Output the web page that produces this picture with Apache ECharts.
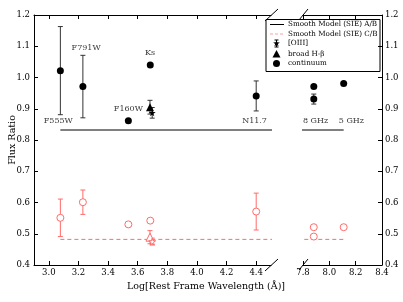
<!DOCTYPE html>
<html>
<head>
<meta charset="utf-8">
<script src="https://cdn.jsdelivr.net/npm/echarts@6/dist/echarts.min.js"></script>
<style>html,body{margin:0;padding:0;background:#fff;}#c{width:403px;height:302px;}</style>
</head>
<body>
<div id="c"></div>
<script>
// ---- data ----
const bandNames = ['F555W', 'F791W', 'F160W', 'Ks', 'N11.7', '8 GHz', '8 GHz', '5 GHz'];
const logWave   = [3.078, 3.230, 3.537, 3.685, 4.400, 7.882, 7.882, 8.109];
const contAB    = [1.022, 0.971, 0.862, 1.040, 0.941, 0.971, 0.931, 0.981];
const contABErr = [0.141, 0.100, 0, 0, 0.048, 0, 0.016, 0];
const contCB    = [0.551, 0.601, 0.530, 0.542, 0.571, 0.521, 0.491, 0.521];
const contCBErr = [0.060, 0.039, 0, 0, 0.059, 0, 0, 0];
const oiiiX = [3.698], oiiiAB = [0.887], oiiiABErr = [0.017], oiiiCB = [0.475], oiiiCBErr = [0.011];
const hbX = [3.683], hbAB = [0.905], hbABErr = [0.022], hbCB = [0.489], hbCBErr = [0.021];
const modelX = [3.078, 8.109];
const modelAB = [0.832, 0.832];
const modelCB = [0.482, 0.482];
const labelText = ['F555W', 'F791W', 'F160W', 'Ks', 'N11.7', '8 GHz', '5 GHz'];
const labelX    = [3.064, 3.252, 3.537, 3.683, 4.389, 7.895, 8.168];
const labelY    = [0.862, 1.094, 0.900, 1.078, 0.862, 0.862, 0.862];
const ticksLeft = [3.0, 3.2, 3.4, 3.6, 3.8, 4.0, 4.2, 4.4];
const ticksRight = [7.8, 8.0, 8.2, 8.4];
const yTicks = [0.4, 0.5, 0.6, 0.7, 0.8, 0.9, 1.0, 1.1, 1.2];

const RED = '#ff6b6b';
const FONT = 'DejaVu Serif';
const STAR = 'path://M50,0 L61,35 L98,35 L68,57 L79,91 L50,70 L21,91 L32,57 L2,35 L39,35 Z';

function panelOf(x) { return x < 6 ? 0 : 1; }
function pts(xs, ys, p) {
  const out = [];
  xs.forEach((x, i) => { if (panelOf(x) === p) out.push([x, ys[i]]); });
  return out;
}
function errs(xs, ys, es, p) {
  const out = [];
  xs.forEach((x, i) => { if (panelOf(x) === p && es[i] > 0) out.push([x, ys[i] - es[i], ys[i] + es[i]]); });
  return out;
}
function errSeries(data, color, p) {
  return {
    type: 'custom', xAxisIndex: p * 2, yAxisIndex: p, z: 2, clip: true,
    data: data,
    renderItem: function (params, api) {
      const x = api.value(0);
      const lo = api.coord([x, api.value(1)]);
      const hi = api.coord([x, api.value(2)]);
      const cw = 2.5;
      const st = { stroke: color, lineWidth: 1 };
      return { type: 'group', children: [
        { type: 'line', shape: { x1: lo[0], y1: lo[1], x2: hi[0], y2: hi[1] }, style: st },
        { type: 'line', shape: { x1: lo[0] - cw, y1: lo[1], x2: lo[0] + cw, y2: lo[1] }, style: st },
        { type: 'line', shape: { x1: hi[0] - cw, y1: hi[1], x2: hi[0] + cw, y2: hi[1] }, style: st }
      ]};
    }
  };
}
function scat(data, p, symbol, size, filled) {
  return {
    type: 'scatter', xAxisIndex: p * 2, yAxisIndex: p, z: 3, data: data,
    symbol: symbol, symbolSize: size,
    itemStyle: filled ? { color: '#000', opacity: 1 } : { color: '#fff', borderColor: RED, borderWidth: 1, opacity: 1 },
    emphasis: { disabled: true }
  };
}

const series = [];
[0, 1].forEach(p => {
  series.push({ type: 'line', xAxisIndex: p * 2, yAxisIndex: p, clip: true, showSymbol: false, symbol: 'none',
    data: modelX.map((x, i) => [x, modelAB[i]]), lineStyle: { color: '#000', width: 1 }, z: 1 });
  series.push({ type: 'line', xAxisIndex: p * 2, yAxisIndex: p, clip: true, showSymbol: false, symbol: 'none',
    data: modelX.map((x, i) => [x, modelCB[i]]), lineStyle: { color: RED, width: 1, type: [4, 3] }, z: 1 });
  series.push(errSeries(errs(logWave, contAB, contABErr, p), '#333', p));
  series.push(errSeries(errs(logWave, contCB, contCBErr, p), RED, p));
  series.push(errSeries(errs(oiiiX, oiiiAB, oiiiABErr, p), '#333', p));
  series.push(errSeries(errs(oiiiX, oiiiCB, oiiiCBErr, p), RED, p));
  series.push(errSeries(errs(hbX, hbAB, hbABErr, p), '#333', p));
  series.push(errSeries(errs(hbX, hbCB, hbCBErr, p), RED, p));
  series.push(scat(pts(logWave, contAB, p), p, 'circle', 7, true));
  series.push(scat(pts(logWave, contCB, p), p, 'circle', 7, false));
  series.push(scat(pts(hbX, hbAB, p), p, 'triangle', 8, true));
  series.push(scat(pts(hbX, hbCB, p), p, 'triangle', 8, false));
  series.push(scat(pts(oiiiX, oiiiAB, p), p, STAR, 7, true));
  series.push(scat(pts(oiiiX, oiiiCB, p), p, STAR, 7, false));
  const lab = [];
  labelX.forEach((x, i) => { if (panelOf(x) === p) lab.push({ value: [x, labelY[i]], name: labelText[i] }); });
  series.push({ type: 'scatter', xAxisIndex: p * 2, yAxisIndex: p, symbolSize: 0, z: 4, data: lab,
    label: { show: true, position: 'inside', formatter: '{b}', color: '#000', fontFamily: FONT, fontSize: 8 },
    emphasis: { disabled: true } });
});

const axisLine = { show: true, onZero: false, lineStyle: { color: '#000', width: 1 } };
const tick = { show: true, inside: true, length: 4, lineStyle: { color: '#000', width: 1 } };
const lbl = { color: '#000', fontFamily: FONT, fontSize: 8.5 };

const option = {
  animation: false,
  grid: [
    { left: 34, top: 15, width: 237, height: 250 },
    { left: 303, top: 15, width: 79, height: 250 }
  ],
  xAxis: [
    { gridIndex: 0, type: 'value', min: 2.9, max: 4.5, position: 'bottom', axisLine: axisLine,
      axisTick: Object.assign({}, tick, { customValues: ticksLeft }),
      axisLabel: Object.assign({}, lbl, { margin: 3, customValues: ticksLeft, formatter: v => v.toFixed(1) }),
      splitLine: { show: false } },
    { gridIndex: 0, type: 'value', min: 2.9, max: 4.5, position: 'top', axisLine: axisLine,
      axisTick: Object.assign({}, tick, { customValues: ticksLeft }),
      axisLabel: { show: false }, splitLine: { show: false } },
    { gridIndex: 1, type: 'value', min: 7.8, max: 8.4, position: 'bottom', axisLine: axisLine,
      axisTick: Object.assign({}, tick, { customValues: ticksRight }),
      axisLabel: Object.assign({}, lbl, { margin: 3, customValues: ticksRight, formatter: v => v.toFixed(1) }),
      splitLine: { show: false } },
    { gridIndex: 1, type: 'value', min: 7.8, max: 8.4, position: 'top', axisLine: axisLine,
      axisTick: Object.assign({}, tick, { customValues: ticksRight }),
      axisLabel: { show: false }, splitLine: { show: false } }
  ],
  yAxis: [
    { gridIndex: 0, type: 'value', min: 0.4, max: 1.2, position: 'left', axisLine: axisLine,
      axisTick: Object.assign({}, tick, { customValues: yTicks }),
      axisLabel: Object.assign({}, lbl, { margin: 4, customValues: yTicks, formatter: v => v.toFixed(1) }),
      splitLine: { show: false } },
    { gridIndex: 1, type: 'value', min: 0.4, max: 1.2, position: 'right', axisLine: axisLine,
      axisTick: Object.assign({}, tick, { customValues: yTicks }),
      axisLabel: Object.assign({}, lbl, { margin: 3, customValues: yTicks, formatter: v => v.toFixed(1) }),
      splitLine: { show: false } }
  ],
  series: series,
  graphic: [
    { type: 'text', x: 206, y: 287,
      style: { text: 'Log[Rest Frame Wavelength (Å)]', x: 0, y: 0, align: 'center', verticalAlign: 'middle', fill: '#000', font: '9.5px "DejaVu Serif"' } },
    { type: 'text', x: 13, y: 140, rotation: Math.PI / 2,
      style: { text: 'Flux Ratio', x: 0, y: 0, align: 'center', verticalAlign: 'middle', fill: '#000', font: '9.5px "DejaVu Serif"' } },
    // break marks
    { type: 'line', shape: { x1: 265, y1: 21, x2: 278, y2: 9 }, style: { stroke: '#000', lineWidth: 1 }, z: 10 },
    { type: 'line', shape: { x1: 265, y1: 271, x2: 278, y2: 259 }, style: { stroke: '#000', lineWidth: 1 }, z: 10 },
    { type: 'line', shape: { x1: 299, y1: 20, x2: 308, y2: 9 }, style: { stroke: '#000', lineWidth: 1 }, z: 10 },
    { type: 'line', shape: { x1: 299, y1: 270, x2: 308, y2: 259 }, style: { stroke: '#000', lineWidth: 1 }, z: 10 },
    // legend
    { type: 'group', z: 20, children: [
      { type: 'rect', shape: { x: 266, y: 19.5, width: 114, height: 52 }, style: { fill: '#fff', stroke: '#000', lineWidth: 1 } },
      { type: 'line', shape: { x1: 270, y1: 24.5, x2: 284, y2: 24.5 }, style: { stroke: '#000', lineWidth: 1 } },
      { type: 'line', shape: { x1: 270, y1: 34, x2: 284, y2: 34 }, style: { stroke: '#ffa0a0', lineWidth: 1, lineDash: [3, 2] } },
      { type: 'line', shape: { x1: 276.5, y1: 40, x2: 276.5, y2: 47 }, style: { stroke: '#000', lineWidth: 1 } },
      { type: 'line', shape: { x1: 274.5, y1: 40, x2: 278.5, y2: 40 }, style: { stroke: '#000', lineWidth: 1 } },
      { type: 'line', shape: { x1: 274.5, y1: 47, x2: 278.5, y2: 47 }, style: { stroke: '#000', lineWidth: 1 } },
      { type: 'polygon', shape: { points: starPts(276.5, 43.5, 3.5) }, style: { fill: '#000' } },
      { type: 'polygon', shape: { points: [[276.5, 50], [280.5, 57.5], [272.5, 57.5]] }, style: { fill: '#000' } },
      { type: 'circle', shape: { cx: 276.5, cy: 63.5, r: 3.5 }, style: { fill: '#000' } },
      { type: 'text', style: { text: 'Smooth Model (SIE) A/B', x: 288, y: 24.5, verticalAlign: 'middle', fill: '#000', font: '7.2px "DejaVu Serif"' } },
      { type: 'text', style: { text: 'Smooth Model (SIE) C/B', x: 288, y: 34, verticalAlign: 'middle', fill: '#000', font: '7.2px "DejaVu Serif"' } },
      { type: 'text', style: { text: '[OIII]', x: 288, y: 43.5, verticalAlign: 'middle', fill: '#000', font: '7.2px "DejaVu Serif"' } },
      { type: 'text', style: { text: 'broad H-β', x: 288, y: 54, verticalAlign: 'middle', fill: '#000', font: '7.2px "DejaVu Serif"' } },
      { type: 'text', style: { text: 'continuum', x: 288, y: 63.5, verticalAlign: 'middle', fill: '#000', font: '7.2px "DejaVu Serif"' } }
    ]}
  ]
};
function starPts(cx, cy, r) {
  const p = [];
  for (let i = 0; i < 10; i++) {
    const a = -Math.PI / 2 + i * Math.PI / 5;
    const rr = i % 2 === 0 ? r : r * 0.4;
    p.push([cx + rr * Math.cos(a), cy + rr * Math.sin(a)]);
  }
  return p;
}
const chart = echarts.init(document.getElementById('c'));
chart.setOption(option);
</script>
</body>
</html>
